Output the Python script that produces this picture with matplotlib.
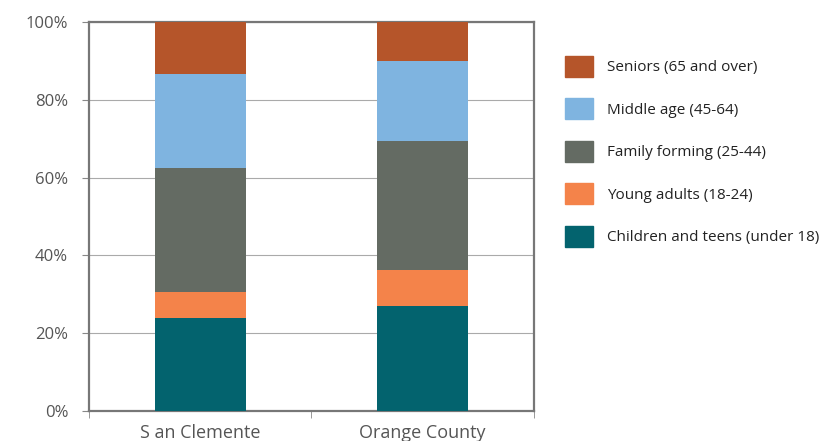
import matplotlib.pyplot as plt
from matplotlib.patches import Patch

places = ["S an Clemente", "Orange County"]
groups = ["Children and teens (under 18)", "Young adults (18-24)",
          "Family forming (25-44)", "Middle age (45-64)", "Seniors (65 and over)"]
children = [24.0, 27.0]
young = [6.6, 9.2]
family = [32.0, 33.3]
middle = [24.1, 20.5]
seniors = [13.3, 10.0]
colors = ["#03636E", "#F4834A", "#646B63", "#7FB4E0", "#B5552A"]

plt.rcParams['font.family'] = ['Open Sans', 'DejaVu Sans']
fig = plt.figure(figsize=(8.27, 4.41), dpi=100)
ax = fig.add_axes([0.1076, 0.068, 0.5381, 0.882])

x = [0, 1]
bottom = [0, 0]
for vals, col in zip([children, young, family, middle, seniors], colors):
    ax.bar(x, vals, width=0.41, bottom=bottom, color=col, zorder=3)
    bottom = [b + v for b, v in zip(bottom, vals)]

ax.set_xlim(-0.5, 1.5)
ax.set_ylim(0, 100)
ax.set_yticks([0, 20, 40, 60, 80, 100])
ax.set_yticklabels(["0%", "20%", "40%", "60%", "80%", "100%"])
ax.set_xticks(x)
ax.set_xticklabels(places)
ax.set_xticks([-0.5, 0.5, 1.5], minor=True)
ax.tick_params(axis='x', which='major', length=0, pad=9, labelsize=13, labelcolor="#555555")
ax.tick_params(axis='x', which='minor', length=5, color="#888888")
ax.tick_params(axis='y', length=5, color="#888888", labelsize=12, labelcolor="#555555", pad=10)
ax.grid(axis='y', color="#aaaaaa", linewidth=0.8, zorder=0)
for s in ax.spines.values():
    s.set_color("#777777")
    s.set_linewidth(1.6)

handles = [Patch(color=c) for c in colors][::-1]
ax.legend(handles, groups[::-1], loc='upper left', bbox_to_anchor=(0.667, 0.905),
          bbox_transform=fig.transFigure, frameon=False, fontsize=11,
          handlelength=1.8, handleheight=1.75, labelspacing=1.4,
          handletextpad=0.9, labelcolor="#222222")

fig.savefig("out.png", dpi=100)
